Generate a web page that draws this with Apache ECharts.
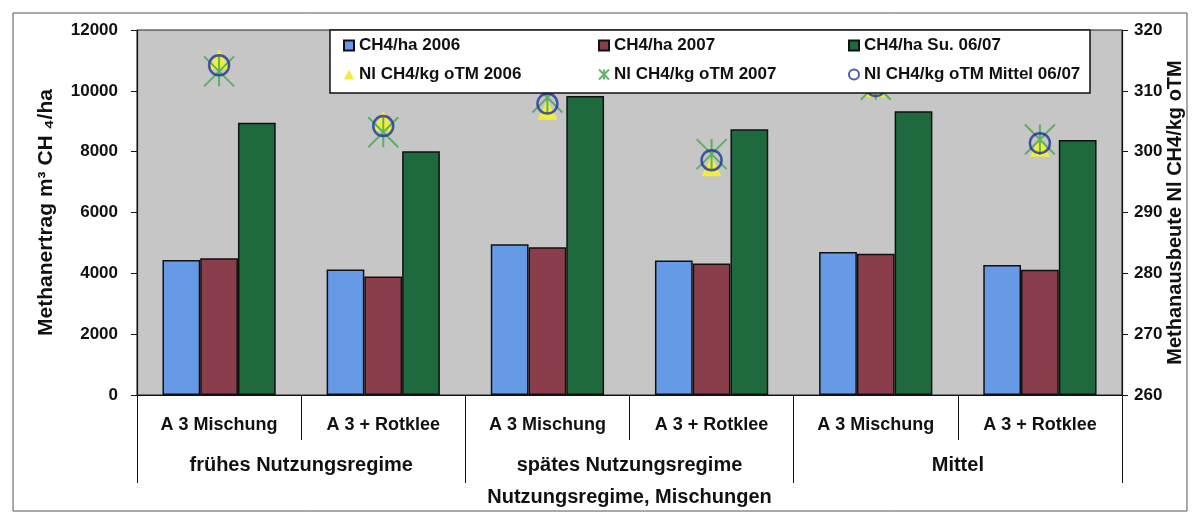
<!DOCTYPE html>
<html>
<head>
<meta charset="utf-8">
<script src="https://cdn.jsdelivr.net/npm/echarts@6/dist/echarts.min.js"></script>
<style>
  html, body { margin: 0; padding: 0; background: #ffffff; }
  #chart { width: 1192px; height: 524px; }
</style>
</head>
<body>
<div id="chart"></div>
<script>
// Mischungen (untere Ebene) und Nutzungsregime (obere Ebene)
const categories = ['A 3 Mischung', 'A 3 + Rotklee', 'A 3 Mischung', 'A 3 + Rotklee', 'A 3 Mischung', 'A 3 + Rotklee'];
const regimes = ['frühes Nutzungsregime', 'spätes Nutzungsregime', 'Mittel'];

// Methanertrag m³ CH4/ha
const ch4Ha2006 = [4440, 4130, 4960, 4420, 4700, 4270];
const ch4Ha2007 = [4500, 3900, 4860, 4320, 4640, 4120];
const ch4HaSum = [8950, 8010, 9830, 8740, 9330, 8380];

// Methanausbeute Nl CH4/kg oTM
const nl2006 = [315.2, 305.1, 306.9, 297.6, 310.6, 300.8];
const nl2007 = [313.2, 303.2, 308.9, 299.6, 311.0, 302.0];
const nlMittel = [314.2, 304.2, 307.9, 298.6, 310.8, 301.4];

// Achsenskalen
const leftMin = 0, leftMax = 12000, leftStep = 2000;
const rightMin = 260, rightMax = 320, rightStep = 10;

const FONT = '"Liberation Sans", Arial, sans-serif';
const chart = echarts.init(document.getElementById('chart'), null, { renderer: 'canvas' });

const barEdge = { borderColor: '#111', borderWidth: 1.5 };
const starPath = 'path://M0,0L20,20M20,0L0,20M10,0L10,20';
const labelFont = { fontFamily: FONT, fontWeight: 'bold', color: '#111' };

chart.setOption({
  backgroundColor: '#ffffff',
  animation: false,
  textStyle: { fontFamily: FONT, fontWeight: 'bold', color: '#111' },
  graphic: [
    {
      type: 'rect', z: -10, silent: true,
      shape: { x: 13, y: 13, width: 1174, height: 498 },
      style: { fill: 'none', stroke: '#555', lineWidth: 1 }
    }
  ],
  legend: {
    left: 330, top: 30,
    width: 760,
    padding: [7, 6, 10, 13],
    backgroundColor: '#ffffff',
    borderColor: '#111', borderWidth: 1.5,
    itemWidth: 10, itemHeight: 10,
    itemGap: 12,
    textStyle: { fontFamily: FONT, fontWeight: 'bold', fontSize: 17, color: '#111', lineHeight: 14 },
    data: [
      { name: 'CH4/ha 2006', icon: 'rect', textStyle: { width: 227 } },
      { name: 'CH4/ha 2007', icon: 'rect', textStyle: { width: 222 } },
      { name: 'CH4/ha Su. 06/07', icon: 'rect', textStyle: { width: 220 } },
      { name: 'Nl CH4/kg oTM 2006', textStyle: { width: 227 } },
      { name: 'Nl CH4/kg oTM 2007', textStyle: { width: 222 } },
      { name: 'Nl CH4/kg oTM Mittel 06/07', textStyle: { width: 220 } }
    ]
  },
  grid: {
    left: 137, right: 70, top: 30, bottom: 129,
    outerBoundsMode: 'none',
    show: true, backgroundColor: '#c6c6c6',
    borderColor: '#222', borderWidth: 1
  },
  xAxis: [
    {
      type: 'category', data: categories, position: 'bottom',
      axisLine: { show: true, lineStyle: { color: '#111', width: 1.2 } },
      axisTick: { show: true, length: 45, interval: 0, lineStyle: { color: '#111', width: 1 } },
      axisLabel: Object.assign({ interval: 0, margin: 21, fontSize: 18 }, labelFont)
    },
    {
      type: 'category', data: regimes, position: 'bottom',
      axisLine: { show: false },
      axisTick: { show: true, length: 88, interval: 0, lineStyle: { color: '#111', width: 1 } },
      axisLabel: Object.assign({ interval: 0, margin: 60, fontSize: 20 }, labelFont),
      name: 'Nutzungsregime, Mischungen',
      nameLocation: 'middle', nameGap: 92, nameMoveOverlap: false,
      nameTextStyle: Object.assign({ fontSize: 20 }, labelFont)
    }
  ],
  yAxis: [
    {
      type: 'value', min: leftMin, max: leftMax, interval: leftStep,
      position: 'left',
      axisLine: { show: true, lineStyle: { color: '#111', width: 1.2 } },
      axisTick: { show: true, length: 6, lineStyle: { color: '#111' } },
      splitLine: { show: false },
      axisLabel: Object.assign({ margin: 19, fontSize: 17, formatter: (v) => String(v) }, labelFont),
      name: 'Methanertrag m³ CH ₄/ha',
      nameLocation: 'middle', nameGap: 80, nameRotate: 90, nameMoveOverlap: false,
      nameTextStyle: Object.assign({ fontSize: 21 }, labelFont)
    },
    {
      type: 'value', min: rightMin, max: rightMax, interval: rightStep,
      position: 'right',
      axisLine: { show: true, lineStyle: { color: '#111', width: 1.2 } },
      axisTick: { show: true, length: 6, lineStyle: { color: '#111' } },
      splitLine: { show: false },
      axisLabel: Object.assign({ margin: 12, fontSize: 17 }, labelFont),
      name: 'Methanausbeute Nl CH4/kg oTM',
      nameLocation: 'middle', nameGap: 43, nameRotate: 90, nameMoveOverlap: false,
      nameTextStyle: Object.assign({ fontSize: 20 }, labelFont)
    }
  ],
  series: [
    {
      name: 'CH4/ha 2006', type: 'bar', data: ch4Ha2006,
      barGap: '0%', barCategoryGap: '31%',
      itemStyle: Object.assign({ color: '#6699e6' }, barEdge)
    },
    {
      name: 'CH4/ha 2007', type: 'bar', data: ch4Ha2007,
      itemStyle: Object.assign({ color: '#8a3e4c' }, barEdge)
    },
    {
      name: 'CH4/ha Su. 06/07', type: 'bar', data: ch4HaSum,
      itemStyle: Object.assign({ color: '#1e6a3e' }, barEdge)
    },
    {
      name: 'Nl CH4/kg oTM 2006', type: 'scatter', yAxisIndex: 1, data: nl2006,
      symbol: 'triangle', symbolSize: 20,
      itemStyle: { color: '#f4ec3c', opacity: 1 }
    },
    {
      name: 'Nl CH4/kg oTM 2007', type: 'scatter', yAxisIndex: 1, data: nl2007,
      symbol: starPath, symbolSize: [30, 30],
      itemStyle: { color: 'rgba(0,0,0,0)', borderColor: '#4fae55', borderWidth: 2, opacity: 0.9 }
    },
    {
      name: 'Nl CH4/kg oTM Mittel 06/07', type: 'scatter', yAxisIndex: 1, data: nlMittel,
      symbol: 'circle', symbolSize: 20,
      itemStyle: { color: 'rgba(0,0,0,0)', borderColor: '#1f3499', borderWidth: 2.5 }
    }
  ]
});
</script>
</body>
</html>
